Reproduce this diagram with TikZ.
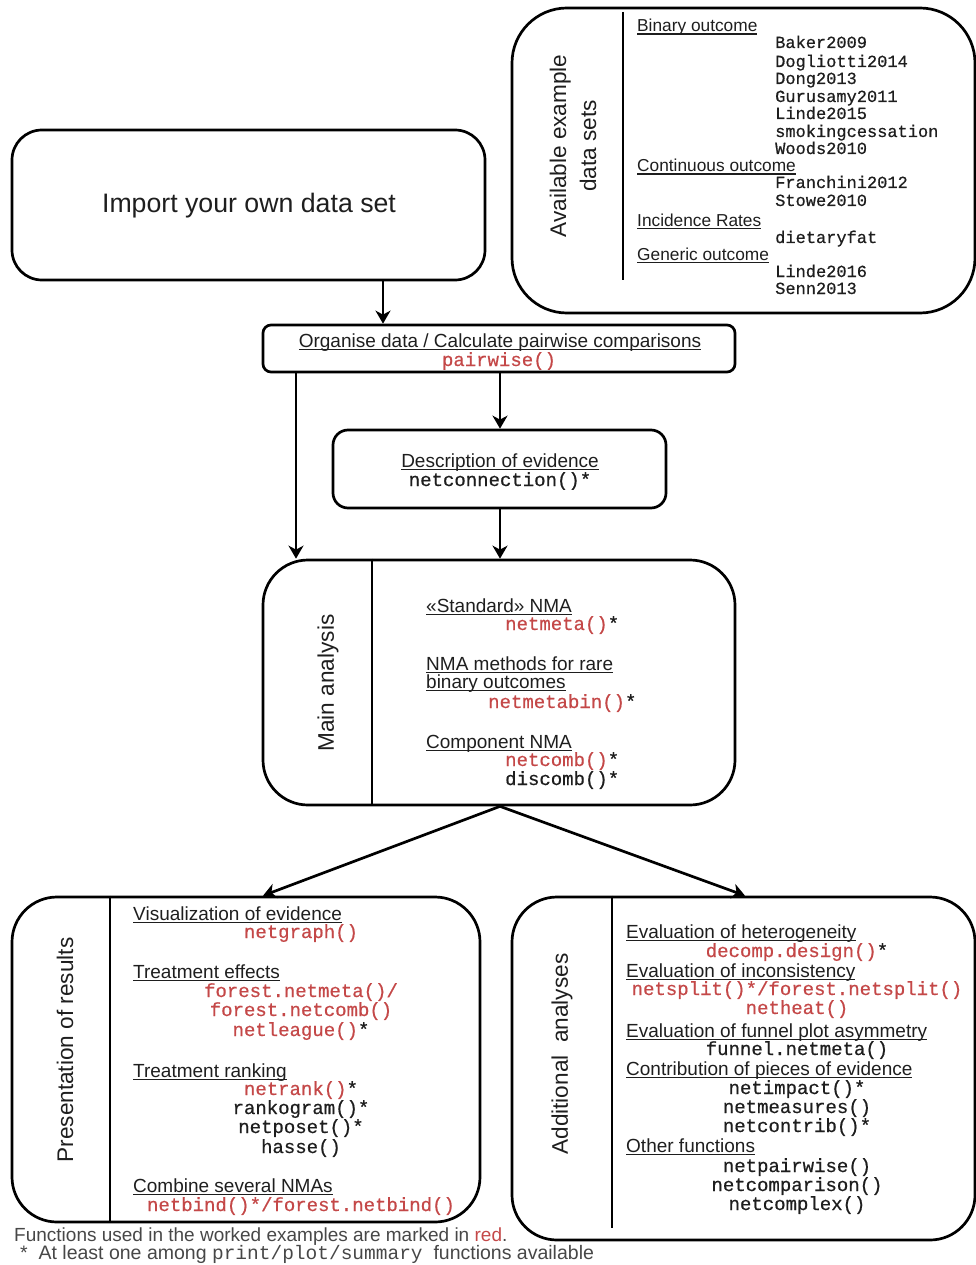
\documentclass[tikz,border=0pt]{standalone}
\usepackage{fontspec}
\setmainfont{Liberation Sans}
\newfontfamily\codefont[FakeBold=0.6]{Liberation Mono}
\newfontfamily\notecode{Liberation Mono}
\usetikzlibrary{arrows.meta,calc}
\definecolor{fnred}{RGB}{196,72,72}
\definecolor{ink}{RGB}{30,30,30}

% heading underline: a thin rule just below the baseline
\newsavebox\hdbox
\newcommand\hdline[1]{\leavevmode\sbox\hdbox{#1}\rlap{\rule[-2.8pt]{\wd\hdbox}{1.3pt}}\usebox\hdbox}

\begin{document}
\begin{tikzpicture}[x=1pt,y=-1pt,
  box/.style={draw=black,line width=2.7pt,rounded corners=#1,inner sep=0pt},
  divider/.style={line width=2.7pt},
  arr/.style={line width=2.7pt,-{Stealth[length=13pt,width=15pt,inset=4pt]}},
  lbl/.style={inner sep=0pt,text height=1em,text depth=0pt,text=ink},
  hd/.style={lbl,anchor=west,font=\fontsize{19}{19}\selectfont},
  shd/.style={lbl,anchor=west,font=\fontsize{17.3}{17.3}\selectfont},
  fn/.style={lbl,font=\codefont\fontsize{19}{19}\selectfont},
  sfn/.style={lbl,anchor=west,font=\codefont\fontsize{17}{17}\selectfont},
  red/.style={text=fnred},
  note/.style={lbl,anchor=west,text=black!72,font=\fontsize{19}{19}\selectfont},
  side/.style={inner sep=0pt,rotate=90,align=center,text=ink,font=\fontsize{22.6}{30}\selectfont}]

\useasboundingbox (0,0) rectangle (976,1265);

% ---------- boxes ----------
\node[box=30pt,minimum width=473pt,minimum height=150pt,
      font=\fontsize{26.7}{26.7}\selectfont,text=ink] (import) at (248.5,205) {};
\node[lbl,font=\fontsize{26.7}{26.7}\selectfont] (importtext) at (249,208) {Import your own data set};
\node[box=55pt,minimum width=463pt,minimum height=305pt] (data) at (743.5,160.5) {};
\node[box=8pt,minimum width=472pt,minimum height=47pt] (org) at (499,348.5) {};
\node[box=15pt,minimum width=333pt,minimum height=78pt] (desc) at (499.5,469) {};
\node[box=45pt,minimum width=472pt,minimum height=245pt] (main) at (499,682.5) {};
\node[box=45pt,minimum width=468pt,minimum height=325pt] (pres) at (246,1059.5) {};
\node[box=45pt,minimum width=463pt,minimum height=343pt] (addl) at (743.5,1068.5) {};

% ---------- dividers ----------
\draw[divider] (623,12) -- (623,280);
\draw[divider] (main.north -| 372,0) -- (main.south -| 372,0);
\draw[divider] (pres.north -| 110,0) -- (pres.south -| 110,0);
\draw[divider] (addl.north -| 612,0) -- (612,1228);

% ---------- side labels ----------
\node[side] (dataside) at (573,146) {Available example\\data sets};
\node[side] (mainside) at (328,683) {Main analysis};
\node[side] (presside) at (65,1050) {Presentation of results};
\node[side] (addlside) at (562,1054) {Additional~~analyses};

% ---------- example data sets ----------
\node[shd] (d1) at (637,27) {\hdline{Binary outcome}};
\node[sfn] (d2) at (775,43) {Baker2009};
\node[sfn] (d3) at (775,62) {Dogliotti2014};
\node[sfn] (d4) at (775,79) {Dong2013};
\node[sfn] (d5) at (775,97) {Gurusamy2011};
\node[sfn] (d6) at (775,114) {Linde2015};
\node[sfn] (d7) at (775,132) {smokingcessation};
\node[sfn] (d8) at (775,149) {Woods2010};
\node[shd] (d9) at (637,167) {\hdline{Continuous outcome}};
\node[sfn] (d10) at (775,183) {Franchini2012};
\node[sfn] (d11) at (775,201) {Stowe2010};
\node[shd] (d12) at (637,221) {\hdline{Incidence Rates}};
\node[sfn] (d13) at (775,238) {dietaryfat};
\node[shd] (d14) at (637,255) {\hdline{Generic outcome}};
\node[sfn] (d15) at (775,272) {Linde2016};
\node[sfn] (d16) at (775,289) {Senn2013};

% ---------- pairwise ----------
\node[hd,anchor=center] (o1) at (500,342) {\hdline{Organise data / Calculate pairwise comparisons}};
\node[fn,red] (o2) at (499,361) {pairwise()};

% ---------- description ----------
\node[hd,anchor=center] (e1) at (500,462) {\hdline{Description of evidence}};
\node[fn] (e2) at (500,481) {netconnection()*};

% ---------- main analysis ----------
\node[hd] (m1) at (426,607) {\hdline{«Standard» NMA}};
\node[fn,anchor=west] (m2) at (505,625) {\textcolor{fnred}{netmeta()}*};
\node[hd] (m3) at (426,665) {\hdline{NMA methods for rare}};
\node[hd] (m4) at (426,683) {\hdline{binary outcomes}};
\node[fn,anchor=west] (m5) at (488,703) {\textcolor{fnred}{netmetabin()}*};
\node[hd] (m6) at (426,743) {\hdline{Component NMA}};
\node[fn,anchor=west] (m7) at (505,761) {\textcolor{fnred}{netcomb()}*};
\node[fn,anchor=west] (m8) at (505,780) {discomb()*};

% ---------- presentation of results ----------
\node[hd] (p1) at (133,915) {\hdline{Visualization of evidence}};
\node[fn,red] (p2) at (301,933) {netgraph()};
\node[hd] (p3) at (133,973) {\hdline{Treatment effects}};
\node[fn,red] (p4) at (301,992) {forest.netmeta()/};
\node[fn,red] (p5) at (301,1011) {forest.netcomb()};
\node[fn] (p6) at (301,1031) {\textcolor{fnred}{netleague()}*};
\node[hd] (p7) at (133,1072) {\hdline{Treatment ranking}};
\node[fn] (p8) at (301,1090) {\textcolor{fnred}{netrank()}*};
\node[fn] (p9) at (301,1109) {rankogram()*};
\node[fn] (p10) at (301,1128) {netposet()*};
\node[fn] (p11) at (301,1148) {hasse()};
\node[hd] (p12) at (133,1187) {\hdline{Combine several NMAs}};
\node[fn,red] (p13) at (301,1206) {netbind()*/forest.netbind()};

% ---------- additional analyses ----------
\node[hd] (a1) at (626,933) {\hdline{Evaluation of heterogeneity}};
\node[fn] (a2) at (797,952) {\textcolor{fnred}{decomp.design()}*};
\node[hd] (a3) at (626,972) {\hdline{Evaluation of inconsistency}};
\node[fn,red] (a4) at (797,990) {netsplit()*/forest.netsplit()};
\node[fn,red] (a5) at (797,1009) {netheat()};
\node[hd] (a6) at (626,1032) {\hdline{Evaluation of funnel plot asymmetry}};
\node[fn] (a7) at (797,1050) {funnel.netmeta()};
\node[hd] (a8) at (626,1070) {\hdline{Contribution of pieces of evidence}};
\node[fn] (a9) at (797,1089) {netimpact()*};
\node[fn] (a10) at (797,1108) {netmeasures()};
\node[fn] (a11) at (797,1127) {netcontrib()*};
\node[hd] (a12) at (626,1147) {\hdline{Other functions}};
\node[fn] (a13) at (797,1167) {netpairwise()};
\node[fn] (a14) at (797,1186) {netcomparison()};
\node[fn] (a15) at (797,1205) {netcomplex()};

% ---------- footnotes ----------
\node[note] (f1) at (14,1236)
  {Functions used in the worked examples are marked in \textcolor{fnred}{red}.};
\node[note,font=\fontsize{19.5}{19.5}\selectfont] (f2) at (20,1254)
  {*~~At least one among {\notecode print/plot/summary}~~functions available};

% ---------- connectors ----------
\coordinate (xa) at (383,0);
\coordinate (xb) at (296,0);
\coordinate (xc) at (500,0);
\coordinate (xd) at (263,0);
\coordinate (xe) at (745,0);
\draw[arr] (import.south -| xa) -- (org.north -| xa);
\draw[arr] (org.south -| xb) -- (main.north -| xb);
\draw[arr] (org.south -| xc) -- (desc.north -| xc);
\draw[arr] (desc.south -| xc) -- (main.north -| xc);
\draw[arr] (main.south -| xc) -- (pres.north -| xd);
\draw[arr] (main.south -| xc) -- (addl.north -| xe);
\end{tikzpicture}
\end{document}
